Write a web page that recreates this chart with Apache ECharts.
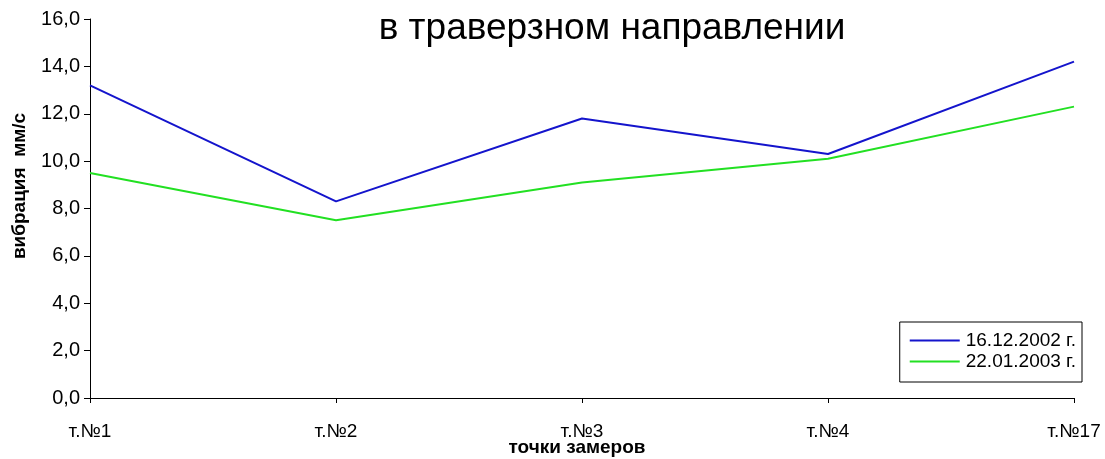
<!DOCTYPE html>
<html>
<head>
<meta charset="utf-8">
<script src="https://cdn.jsdelivr.net/npm/echarts@6/dist/echarts.min.js"></script>
<style>
  html, body { margin: 0; padding: 0; background: #fff; }
  #chart { width: 1105px; height: 459px; }
</style>
</head>
<body>
<div id="chart"></div>
<script>
// Measurement points along the x axis
const categories = ['т.№1', 'т.№2', 'т.№3', 'т.№4', 'т.№17'];
// Vibration readings, mm/s
const series1Name = '16.12.2002 г.';
const series1 = [13.2, 8.3, 11.8, 10.3, 14.2];
const series2Name = '22.01.2003 г.';
const series2 = [9.5, 7.5, 9.1, 10.1, 12.3];

const chart = echarts.init(document.getElementById('chart'));
const font = 'Liberation Sans, Arial, sans-serif';

chart.setOption({
  animation: false,
  backgroundColor: '#fff',
  title: {
    text: 'в траверзном направлении',
    left: 607,
    top: 5,
    textAlign: 'center',
    textStyle: { fontFamily: font, fontSize: 37, fontWeight: 'normal', color: '#000' }
  },
  // Axis titles
  graphic: [
    {
      type: 'text',
      x: 20,
      y: 186,
      rotation: Math.PI / 2,
      style: {
        text: 'вибрация  мм/с',
        font: 'bold 19px ' + font,
        fill: '#000',
        align: 'center',
        verticalAlign: 'middle'
      }
    },
    {
      type: 'text',
      x: 577,
      y: 448,
      style: {
        text: 'точки замеров',
        font: 'bold 19px ' + font,
        fill: '#000',
        align: 'center',
        verticalAlign: 'middle'
      }
    }
  ],
  legend: {
    orient: 'vertical',
    right: 23,
    top: 322,
    padding: [9, 6, 11, 10],
    itemGap: 2,
    itemWidth: 50,
    itemHeight: 2,
    icon: 'rect',
    backgroundColor: '#fff',
    borderColor: '#000',
    borderWidth: 1,
    borderRadius: 0,
    textStyle: { fontFamily: font, fontSize: 19, color: '#000', padding: [0, 0, 0, 1] },
    data: [series1Name, series2Name]
  },
  grid: { left: 90, right: 31, top: 19, bottom: 61, outerBoundsMode: 'none', containLabel: false },
  xAxis: {
    type: 'category',
    data: categories,
    boundaryGap: false,
    axisLine: { lineStyle: { color: '#000', width: 1 } },
    axisTick: { show: true, alignWithLabel: true, length: 5, lineStyle: { color: '#000' } },
    axisLabel: { fontFamily: font, fontSize: 19, color: '#000', margin: 24 },
    splitLine: { show: false }
  },
  yAxis: {
    type: 'value',
    min: 0,
    max: 16,
    interval: 2,
    axisLine: { show: true, lineStyle: { color: '#000', width: 1 } },
    axisTick: { show: true, length: 6, lineStyle: { color: '#000' } },
    axisLabel: {
      fontFamily: font, fontSize: 20, color: '#000', margin: 10,
      formatter: v => v.toFixed(1).replace('.', ',')
    },
    splitLine: { show: false }
  },
  series: [
    {
      name: series1Name,
      type: 'line',
      data: series1,
      showSymbol: false,
      symbol: 'none',
      lineStyle: { color: '#1414cc', width: 2 },
      itemStyle: { color: '#1414cc' }
    },
    {
      name: series2Name,
      type: 'line',
      data: series2,
      showSymbol: false,
      symbol: 'none',
      lineStyle: { color: '#22e022', width: 2 },
      itemStyle: { color: '#22e022' }
    }
  ]
});
</script>
</body>
</html>
